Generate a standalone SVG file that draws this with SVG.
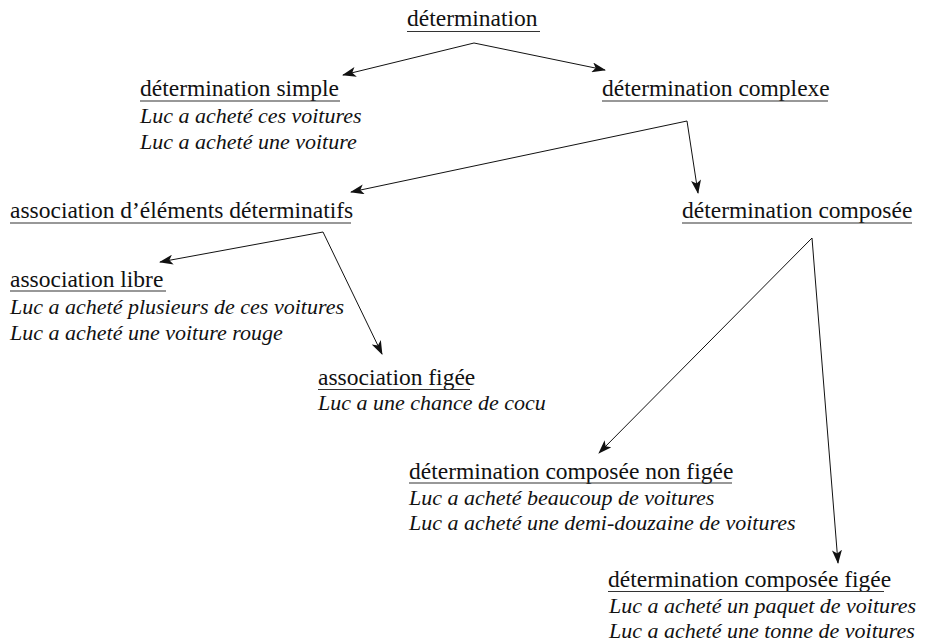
<svg xmlns="http://www.w3.org/2000/svg" width="933" height="642" viewBox="0 0 933 642">
<defs>
<style>
.h{font-family:"Liberation Serif",serif;font-size:23.5px;fill:#111}
.e{font-family:"Liberation Serif",serif;font-size:22px;font-style:italic;fill:#111}
.u{stroke:#333;stroke-width:1.2}
.c{stroke:#111;stroke-width:1;fill:none;marker-end:url(#ah)}
</style>
<marker id="ah" viewBox="0 0 14 10" refX="13" refY="5" markerWidth="14" markerHeight="10" markerUnits="userSpaceOnUse" orient="auto">
<path d="M0,0 L14,5 L0,10 L3.5,5 Z" fill="#111"/>
</marker>
</defs>
<g id="connectors">
<line class="c" x1="474" y1="43" x2="343" y2="75"/>
<line class="c" x1="474" y1="43" x2="605" y2="70"/>
<line class="c" x1="687" y1="121" x2="351" y2="192"/>
<line class="c" x1="687" y1="121" x2="698" y2="193"/>
<line class="c" x1="323" y1="232" x2="160" y2="262"/>
<line class="c" x1="323" y1="232" x2="382" y2="354"/>
<line class="c" x1="812" y1="238" x2="599" y2="453"/>
<line class="c" x1="812" y1="238" x2="838" y2="563"/>
</g>
<g id="n-determination">
<text class="h" x="407" y="26">détermination</text>
<line class="u" x1="407" y1="31.5" x2="540" y2="31.5"/>
</g>
<g id="n-simple">
<text class="h" x="140" y="96">détermination simple</text>
<line class="u" x1="140" y1="101" x2="340" y2="101"/>
<text class="e" x="140" y="123">Luc a acheté ces voitures</text>
<text class="e" x="140" y="149">Luc a acheté une voiture</text>
</g>
<g id="n-complexe">
<text class="h" x="602" y="96">détermination complexe</text>
<line class="u" x1="602" y1="101" x2="828" y2="101"/>
</g>
<g id="n-association">
<text class="h" x="10" y="218">association d’éléments déterminatifs</text>
<line class="u" x1="10" y1="223" x2="351" y2="223"/>
</g>
<g id="n-composee">
<text class="h" x="682" y="218">détermination composée</text>
<line class="u" x1="682" y1="223" x2="912" y2="223"/>
</g>
<g id="n-libre">
<text class="h" x="10" y="287">association libre </text>
<line class="u" x1="10" y1="291" x2="166" y2="291"/>
<text class="e" x="10" y="314">Luc a acheté plusieurs de ces voitures</text>
<text class="e" x="10" y="340">Luc a acheté une voiture rouge</text>
</g>
<g id="n-assoc-figee">
<text class="h" x="318" y="385">association figée</text>
<line class="u" x1="318" y1="389.5" x2="470" y2="389.5"/>
<text class="e" x="318" y="410">Luc a une chance de cocu</text>
</g>
<g id="n-non-figee">
<text class="h" x="409" y="479">détermination composée non figée</text>
<line class="u" x1="409" y1="483" x2="732" y2="483"/>
<text class="e" x="409" y="505">Luc a acheté beaucoup de voitures</text>
<text class="e" x="409" y="530">Luc a acheté une demi-douzaine de voitures</text>
</g>
<g id="n-figee">
<text class="h" x="608" y="587">détermination composée figée</text>
<line class="u" x1="608" y1="591.5" x2="884" y2="591.5"/>
<text class="e" x="609" y="613">Luc a acheté un paquet de voitures</text>
<text class="e" x="609" y="638">Luc a acheté une tonne de voitures</text>
</g>
</svg>
